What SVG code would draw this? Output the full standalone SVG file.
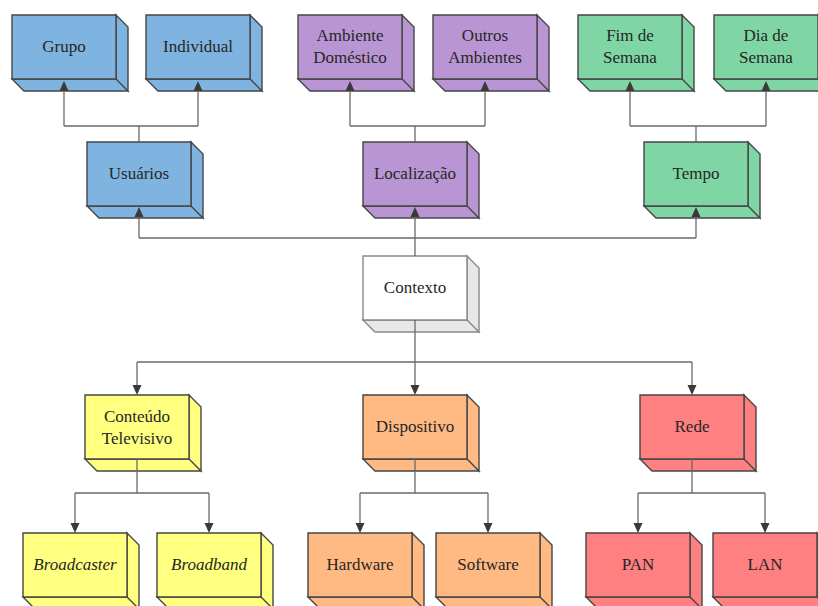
<svg xmlns="http://www.w3.org/2000/svg" width="818" height="606" viewBox="0 0 818 606">
  <defs>
    <style>
      .box path { stroke: #454545; stroke-width: 1.4; }
      .blue path { fill: #7fb4e0; }
      .purple path { fill: #b996d3; }
      .green path { fill: #7fd6a4; }
      .yellow path { fill: #ffff80; }
      .orange path { fill: #ffb983; }
      .red path { fill: #ff8080; }
      .white path.front { fill: #ffffff; }
      .white path.side { fill: #e8e8e8; }
      .white path { stroke: #888888; }
      .edges path { fill: none; stroke: #6a6a6a; stroke-width: 1.3; }
      .heads use { fill: #3a3a3a; }
    </style>
    <!-- arrowhead with its tip at the origin, pointing down -->
    <path id="ah" d="M-4.5,-10 L4.5,-10 L0,0 Z"/>
  </defs>

  <g id="nodes" font-family="'Liberation Serif', 'DejaVu Serif', serif" font-size="17" fill="#262626" text-anchor="middle">
    <!-- top row -->
    <g id="grupo" class="box blue" transform="translate(12,15)">
      <path class="side" d="M104,0 L116,12 V76 L104,64 Z M0,64 H104 L116,76 H12 Z"/>
      <path class="front" d="M0,0 H104 V64 H0 Z"/>
      <text x="52" y="37">Grupo</text>
    </g>
    <g id="individual" class="box blue" transform="translate(146,15)">
      <path class="side" d="M104,0 L116,12 V76 L104,64 Z M0,64 H104 L116,76 H12 Z"/>
      <path class="front" d="M0,0 H104 V64 H0 Z"/>
      <text x="52" y="37">Individual</text>
    </g>
    <g id="ambiente-domestico" class="box purple" transform="translate(298,15)">
      <path class="side" d="M104,0 L116,12 V76 L104,64 Z M0,64 H104 L116,76 H12 Z"/>
      <path class="front" d="M0,0 H104 V64 H0 Z"/>
      <text x="52" y="26">Ambiente</text>
      <text x="52" y="48">Doméstico</text>
    </g>
    <g id="outros-ambientes" class="box purple" transform="translate(433,15)">
      <path class="side" d="M104,0 L116,12 V76 L104,64 Z M0,64 H104 L116,76 H12 Z"/>
      <path class="front" d="M0,0 H104 V64 H0 Z"/>
      <text x="52" y="26">Outros</text>
      <text x="52" y="48">Ambientes</text>
    </g>
    <g id="fim-de-semana" class="box green" transform="translate(578,15)">
      <path class="side" d="M104,0 L116,12 V76 L104,64 Z M0,64 H104 L116,76 H12 Z"/>
      <path class="front" d="M0,0 H104 V64 H0 Z"/>
      <text x="52" y="26">Fim de</text>
      <text x="52" y="48">Semana</text>
    </g>
    <g id="dia-de-semana" class="box green" transform="translate(714,15)">
      <path class="side" d="M104,0 L116,12 V76 L104,64 Z M0,64 H104 L116,76 H12 Z"/>
      <path class="front" d="M0,0 H104 V64 H0 Z"/>
      <text x="52" y="26">Dia de</text>
      <text x="52" y="48">Semana</text>
    </g>

    <!-- second row -->
    <g id="usuarios" class="box blue" transform="translate(87,142)">
      <path class="side" d="M104,0 L116,12 V76 L104,64 Z M0,64 H104 L116,76 H12 Z"/>
      <path class="front" d="M0,0 H104 V64 H0 Z"/>
      <text x="52" y="37">Usuários</text>
    </g>
    <g id="localizacao" class="box purple" transform="translate(363,142)">
      <path class="side" d="M104,0 L116,12 V76 L104,64 Z M0,64 H104 L116,76 H12 Z"/>
      <path class="front" d="M0,0 H104 V64 H0 Z"/>
      <text x="52" y="37">Localização</text>
    </g>
    <g id="tempo" class="box green" transform="translate(644,142)">
      <path class="side" d="M104,0 L116,12 V76 L104,64 Z M0,64 H104 L116,76 H12 Z"/>
      <path class="front" d="M0,0 H104 V64 H0 Z"/>
      <text x="52" y="37">Tempo</text>
    </g>

    <!-- centre -->
    <g id="contexto" class="box white" transform="translate(363,256)">
      <path class="side" d="M104,0 L116,12 V76 L104,64 Z M0,64 H104 L116,76 H12 Z"/>
      <path class="front" d="M0,0 H104 V64 H0 Z"/>
      <text x="52" y="37">Contexto</text>
    </g>

    <!-- third row -->
    <g id="conteudo-televisivo" class="box yellow" transform="translate(85,395)">
      <path class="side" d="M104,0 L116,12 V76 L104,64 Z M0,64 H104 L116,76 H12 Z"/>
      <path class="front" d="M0,0 H104 V64 H0 Z"/>
      <text x="52" y="27">Conteúdo</text>
      <text x="52" y="49">Televisivo</text>
    </g>
    <g id="dispositivo" class="box orange" transform="translate(363,395)">
      <path class="side" d="M104,0 L116,12 V76 L104,64 Z M0,64 H104 L116,76 H12 Z"/>
      <path class="front" d="M0,0 H104 V64 H0 Z"/>
      <text x="52" y="37">Dispositivo</text>
    </g>
    <g id="rede" class="box red" transform="translate(640,395)">
      <path class="side" d="M104,0 L116,12 V76 L104,64 Z M0,64 H104 L116,76 H12 Z"/>
      <path class="front" d="M0,0 H104 V64 H0 Z"/>
      <text x="52" y="37">Rede</text>
    </g>

    <!-- bottom row -->
    <g id="broadcaster" class="box yellow" transform="translate(23,533)">
      <path class="side" d="M104,0 L116,12 V76 L104,64 Z M0,64 H104 L116,76 H12 Z"/>
      <path class="front" d="M0,0 H104 V64 H0 Z"/>
      <text x="52" y="37" font-style="italic">Broadcaster</text>
    </g>
    <g id="broadband" class="box yellow" transform="translate(157,533)">
      <path class="side" d="M104,0 L116,12 V76 L104,64 Z M0,64 H104 L116,76 H12 Z"/>
      <path class="front" d="M0,0 H104 V64 H0 Z"/>
      <text x="52" y="37" font-style="italic">Broadband</text>
    </g>
    <g id="hardware" class="box orange" transform="translate(308,533)">
      <path class="side" d="M104,0 L116,12 V76 L104,64 Z M0,64 H104 L116,76 H12 Z"/>
      <path class="front" d="M0,0 H104 V64 H0 Z"/>
      <text x="52" y="37">Hardware</text>
    </g>
    <g id="software" class="box orange" transform="translate(436,533)">
      <path class="side" d="M104,0 L116,12 V76 L104,64 Z M0,64 H104 L116,76 H12 Z"/>
      <path class="front" d="M0,0 H104 V64 H0 Z"/>
      <text x="52" y="37">Software</text>
    </g>
    <g id="pan" class="box red" transform="translate(586,533)">
      <path class="side" d="M104,0 L116,12 V76 L104,64 Z M0,64 H104 L116,76 H12 Z"/>
      <path class="front" d="M0,0 H104 V64 H0 Z"/>
      <text x="52" y="37">PAN</text>
    </g>
    <g id="lan" class="box red" transform="translate(713,533)">
      <path class="side" d="M104,0 L116,12 V76 L104,64 Z M0,64 H104 L116,76 H12 Z"/>
      <path class="front" d="M0,0 H104 V64 H0 Z"/>
      <text x="52" y="37">LAN</text>
    </g>
  </g>

  <!-- connectors, drawn above the boxes so upward heads sit on the bottom faces -->
  <g id="connectors">
    <g class="edges">
      <!-- Usuários -> Grupo / Individual -->
      <path d="M139,142 V126 M64,126 H198 M64,126 V86 M198,126 V86"/>
      <!-- Localização -> Ambiente Doméstico / Outros Ambientes -->
      <path d="M415,142 V126 M350,126 H485 M350,126 V86 M485,126 V86"/>
      <!-- Tempo -> Fim de Semana / Dia de Semana -->
      <path d="M696,142 V126 M630,126 H766 M630,126 V86 M766,126 V86"/>
      <!-- Contexto -> Usuários / Localização / Tempo -->
      <path d="M415,256 V216 M139,238 H696 M139,238 V216 M696,238 V216"/>
      <!-- Contexto -> Conteúdo / Dispositivo / Rede -->
      <path d="M415,320 V389 M137,362 H692 M137,362 V389 M692,362 V389"/>
      <!-- Conteúdo Televisivo -> Broadcaster / Broadband -->
      <path d="M137,459 V493 M75,493 H209 M75,493 V527 M209,493 V527"/>
      <!-- Dispositivo -> Hardware / Software -->
      <path d="M415,459 V493 M360,493 H488 M360,493 V527 M488,493 V527"/>
      <!-- Rede -> PAN / LAN -->
      <path d="M692,459 V493 M638,493 H765 M638,493 V527 M765,493 V527"/>
    </g>
    <g class="heads">
      <use href="#ah" transform="translate(64,81) rotate(180)"/>
      <use href="#ah" transform="translate(198,81) rotate(180)"/>
      <use href="#ah" transform="translate(350,81) rotate(180)"/>
      <use href="#ah" transform="translate(485,81) rotate(180)"/>
      <use href="#ah" transform="translate(630,81) rotate(180)"/>
      <use href="#ah" transform="translate(766,81) rotate(180)"/>
      <use href="#ah" transform="translate(139,207) rotate(180)"/>
      <use href="#ah" transform="translate(415,207) rotate(180)"/>
      <use href="#ah" transform="translate(696,207) rotate(180)"/>
      <use href="#ah" transform="translate(137,395)"/>
      <use href="#ah" transform="translate(415,395)"/>
      <use href="#ah" transform="translate(692,395)"/>
      <use href="#ah" transform="translate(75,533)"/>
      <use href="#ah" transform="translate(209,533)"/>
      <use href="#ah" transform="translate(360,533)"/>
      <use href="#ah" transform="translate(488,533)"/>
      <use href="#ah" transform="translate(638,533)"/>
      <use href="#ah" transform="translate(765,533)"/>
    </g>
  </g>
</svg>
